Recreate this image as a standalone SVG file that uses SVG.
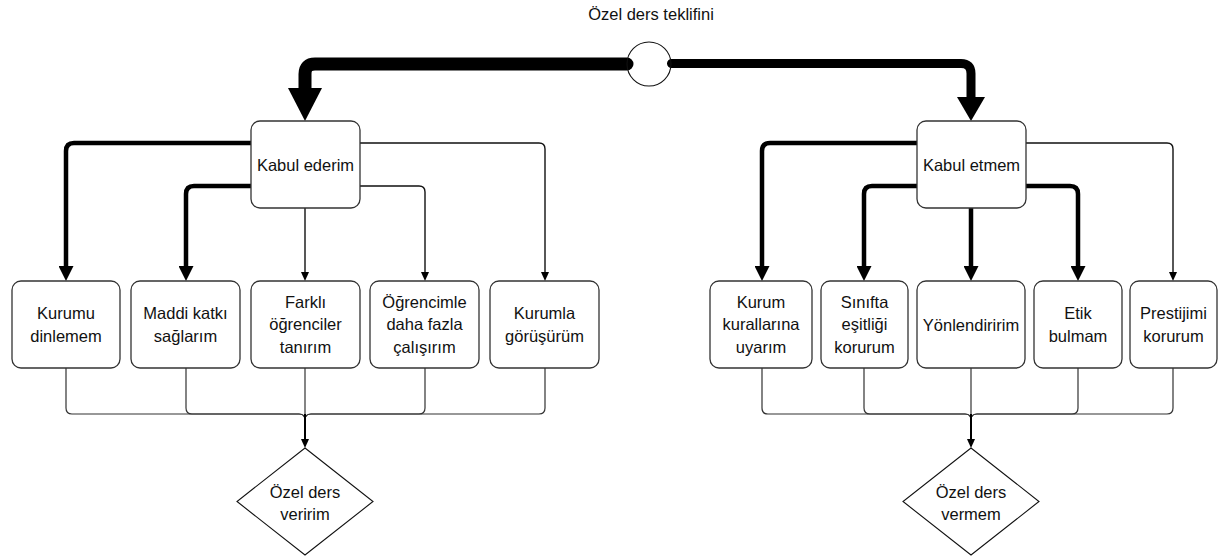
<svg xmlns="http://www.w3.org/2000/svg" width="1219" height="560" viewBox="0 0 1219 560">
<style>
text{font-family:"Liberation Sans",Arial,sans-serif;font-size:16.5px;fill:#111;text-anchor:middle}
.box{fill:#fff;stroke:#333;stroke-width:1.3}
.dia{fill:#fff;stroke:#111;stroke-width:1.1}
.thin{fill:none;stroke:#111;stroke-width:1.4}
.thick{fill:none;stroke:#000;stroke-width:4.5;stroke-linecap:round}
.merge{fill:none;stroke:#333;stroke-width:1.2}
</style>
<defs>
<marker id="aThin" markerUnits="userSpaceOnUse" markerWidth="9" markerHeight="8" viewBox="0 0 9 8" refX="0" refY="4" orient="auto"><path d="M0,0 L9,4 L0,8 z" fill="#000"/></marker>
<marker id="aThick" markerUnits="userSpaceOnUse" markerWidth="15" markerHeight="15" viewBox="0 0 15 15" refX="0" refY="7.5" orient="auto"><path d="M0,0 L15,7.5 L0,15 z" fill="#000"/></marker>
<marker id="aBigL" markerUnits="userSpaceOnUse" markerWidth="33" markerHeight="34" viewBox="0 0 33 34" refX="0" refY="17" orient="auto"><path d="M0,0 L33,17 L0,34 z" fill="#000"/></marker>
<marker id="aBigR" markerUnits="userSpaceOnUse" markerWidth="24" markerHeight="28" viewBox="0 0 24 28" refX="0" refY="14" orient="auto"><path d="M0,0 L24,14 L0,28 z" fill="#000"/></marker>
</defs>

<g id="connectors">
<!-- top split -->
<path d="M627 64 H315 Q305 64 305 74 V88" fill="none" stroke="#000" stroke-width="13" stroke-linecap="round" marker-end="url(#aBigL)"/>
<path d="M671.5 63.5 H961 Q971 63.5 971 73.5 V97" fill="none" stroke="#000" stroke-width="9" stroke-linecap="round" marker-end="url(#aBigR)"/>
<!-- Kabul ederim -->
<path class="thick" d="M251 143 H74 Q66 143 66 151 V266" marker-end="url(#aThick)"/>
<path class="thick" d="M251 186 H194 Q186 186 186 194 V266" marker-end="url(#aThick)"/>
<path class="thin" d="M305 208 V272" marker-end="url(#aThin)"/>
<path class="thin" d="M360 186 H419 Q425 186 425 192 V272" marker-end="url(#aThin)"/>
<path class="thin" d="M360 143 H539 Q545 143 545 149 V272" marker-end="url(#aThin)"/>
<!-- Kabul etmem -->
<path class="thick" d="M917 143 H770 Q762 143 762 151 V266" marker-end="url(#aThick)"/>
<path class="thick" d="M917 186 H872 Q864 186 864 194 V266" marker-end="url(#aThick)"/>
<path class="thick" d="M971 208 V266" marker-end="url(#aThick)"/>
<path class="thick" d="M1025 186 H1070 Q1078 186 1078 194 V266" marker-end="url(#aThick)"/>
<path class="thin" d="M1025 143 H1167 Q1173 143 1173 149 V272" marker-end="url(#aThin)"/>
<!-- left merge -->
<path class="merge" d="M66 368 V408 Q66 414 72 414 H299 Q305 414 305 420"/>
<path class="merge" d="M186 368 V408 Q186 414 192 414 H299 Q305 414 305 420"/>
<path class="merge" d="M305 368 V414"/>
<path class="merge" d="M425 368 V408 Q425 414 419 414 H311 Q305 414 305 420"/>
<path class="merge" d="M545 368 V408 Q545 414 539 414 H311 Q305 414 305 420"/>
<path d="M305 414 V439" fill="none" stroke="#000" stroke-width="2" marker-end="url(#aThin)"/>
<!-- right merge -->
<path class="merge" d="M762 368 V408 Q762 414 768 414 H965 Q971 414 971 420"/>
<path class="merge" d="M864 368 V408 Q864 414 870 414 H965 Q971 414 971 420"/>
<path class="merge" d="M971 368 V414"/>
<path class="merge" d="M1078 368 V408 Q1078 414 1072 414 H977 Q971 414 971 420"/>
<path class="merge" d="M1173 368 V408 Q1173 414 1167 414 H977 Q971 414 971 420"/>
<path d="M971 414 V439" fill="none" stroke="#000" stroke-width="2" marker-end="url(#aThin)"/>
</g>

<g id="title"><text x="651" y="20">Özel ders teklifini</text></g>
<g id="split"><ellipse cx="649" cy="64" rx="22" ry="22" fill="none" stroke="#111" stroke-width="1.1"/></g>

<g id="kabul-ederim"><rect class="box" x="251" y="121" width="109" height="87" rx="9"/><text x="305.5" y="171">Kabul ederim</text></g>
<g id="kabul-etmem"><rect class="box" x="917" y="121" width="109" height="87" rx="9"/><text x="971.5" y="171">Kabul etmem</text></g>

<g id="kurumu-dinlemem"><rect class="box" x="12" y="281" width="108" height="87" rx="9"/><text x="66" y="319">Kurumu</text><text x="66" y="342">dinlemem</text></g>
<g id="maddi-katki"><rect class="box" x="131" y="281" width="109" height="87" rx="9"/><text x="185.5" y="319">Maddi katkı</text><text x="185.5" y="342">sağlarım</text></g>
<g id="farkli-ogrenciler"><rect class="box" x="251" y="281" width="109" height="87" rx="9"/><text x="305.5" y="307.5">Farklı</text><text x="305.5" y="330">öğrenciler</text><text x="305.5" y="352.5">tanırım</text></g>
<g id="ogrencimle"><rect class="box" x="370" y="281" width="109" height="87" rx="9"/><text x="424.5" y="307.5">Öğrencimle</text><text x="424.5" y="330">daha fazla</text><text x="424.5" y="352.5">çalışırım</text></g>
<g id="kurumla"><rect class="box" x="490" y="281" width="109" height="87" rx="9"/><text x="544.5" y="319">Kurumla</text><text x="544.5" y="342">görüşürüm</text></g>

<g id="kurum-kurallarina"><rect class="box" x="710" y="281" width="102" height="87" rx="9"/><text x="761" y="307.5">Kurum</text><text x="761" y="330">kurallarına</text><text x="761" y="352.5">uyarım</text></g>
<g id="sinifta-esitligi"><rect class="box" x="821" y="281" width="87" height="87" rx="9"/><text x="864.5" y="307.5">Sınıfta</text><text x="864.5" y="330">eşitliği</text><text x="864.5" y="352.5">korurum</text></g>
<g id="yonlendiririm"><rect class="box" x="917" y="281" width="108" height="87" rx="9"/><text x="971" y="330.5">Yönlendiririm</text></g>
<g id="etik-bulmam"><rect class="box" x="1034" y="281" width="88" height="87" rx="9"/><text x="1078" y="319">Etik</text><text x="1078" y="342">bulmam</text></g>
<g id="prestijimi"><rect class="box" x="1130" y="281" width="87" height="87" rx="9"/><text x="1173.5" y="319">Prestijimi</text><text x="1173.5" y="342">korurum</text></g>

<g id="ozel-ders-veririm"><polygon class="dia" points="305,448 373,501.5 305,555 237,501.5"/><text x="305" y="497.5">Özel ders</text><text x="305" y="520">veririm</text></g>
<g id="ozel-ders-vermem"><polygon class="dia" points="971,448 1039,501.5 971,555 903,501.5"/><text x="971" y="497.5">Özel ders</text><text x="971" y="520">vermem</text></g>
</svg>
